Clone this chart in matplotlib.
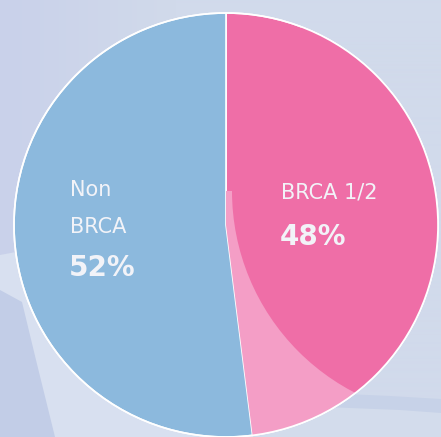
import numpy as np
import matplotlib.pyplot as plt
from matplotlib.colors import to_rgb
from matplotlib.patches import Circle, Polygon, Rectangle

# data
categories = ['BRCA 1/2', 'Non BRCA']
shares = [48, 52]
pct_labels = ['48%', '52%']
colors = ['#ef6ea7', '#8cb9dd']

BG = '#d1daeb'
LIGHT_PINK = '#f49ec6'
TXT = '#f2f3f8'

W, H = 441, 437


def px(pts):
    # picture pixel coords (y down) -> data coords (y up)
    return [(x, H - y) for x, y in pts]


fig = plt.figure(figsize=(W / 100, H / 100), dpi=100, facecolor=BG)
ax = fig.add_axes([0, 0, 1, 1])

# soft background: a little darker towards the left edge
t = np.clip(np.linspace(0, 1, W) * 2.5, 0, 1)[None, :, None]
grad = np.array(to_rgb('#c9d1ea')) * (1 - t) + np.array(to_rgb(BG)) * t
ax.imshow(grad, extent=(0, W, 0, H), aspect='auto', interpolation='bilinear', zorder=0)

# lighter swoosh beside the lower-left of the pie
ax.add_patch(Polygon(px([(0, 255), (80, 240), (220, 437), (0, 437)]),
                     closed=True, color='#d8e0f0', lw=0, zorder=0.4))
ax.add_patch(Polygon(px([(0, 290), (22, 302), (36, 360), (55, 437), (0, 437)]),
                     closed=True, color='#c2cde7', lw=0, zorder=0.5))
# shade continuing the pink arc on the right
ax.add_patch(Polygon(px([(300, 392), (390, 396), (441, 399), (441, 437), (240, 437)]),
                     closed=True, color='#c7d2e8', lw=0, zorder=0.5))
ax.add_patch(Polygon(px([(300, 406), (400, 410), (441, 413), (441, 437), (240, 437)]),
                     closed=True, color='#d3dcec', lw=0, zorder=0.6))

cx, cy, r = 226, 212, 212
wedges, _ = ax.pie(shares, colors=colors, startangle=90, counterclock=False,
                   center=(cx, cy), radius=r, frame=True,
                   wedgeprops=dict(edgecolor='white', linewidth=1.2))
ax.set_xlim(0, W)
ax.set_ylim(0, H)
ax.set_aspect('equal')
ax.axis('off')

# lighter lower part of the pink slice
pink = wedges[0]
light = Rectangle((200, 0), 260, 246, color=LIGHT_PINK, lw=0, zorder=2)
ax.add_patch(light)
light.set_clip_path(pink)
shade = Circle((459, 246), 227, color=colors[0], lw=0, zorder=2.1)
ax.add_patch(shade)
shade.set_clip_path(pink)
ax.add_patch(Circle((cx, cy), r, fill=False, edgecolor='white', lw=1.2, zorder=3))

font = ['DejaVu Sans']
ax.text(70, H - 190, 'Non', color=TXT, fontsize=15, family=font, ha='left', va='center', zorder=4)
ax.text(70, H - 227, 'BRCA', color=TXT, fontsize=15, family=font, ha='left', va='center', zorder=4)
ax.text(69, H - 268, pct_labels[1], color=TXT, fontsize=20, fontweight='bold', family=font,
        ha='left', va='center', zorder=4)
ax.text(281, H - 193, categories[0], color=TXT, fontsize=15, family=font, ha='left', va='center', zorder=4)
ax.text(280, H - 237, pct_labels[0], color=TXT, fontsize=20, fontweight='bold', family=font,
        ha='left', va='center', zorder=4)

fig.savefig('out.png', dpi=100, facecolor=BG)
